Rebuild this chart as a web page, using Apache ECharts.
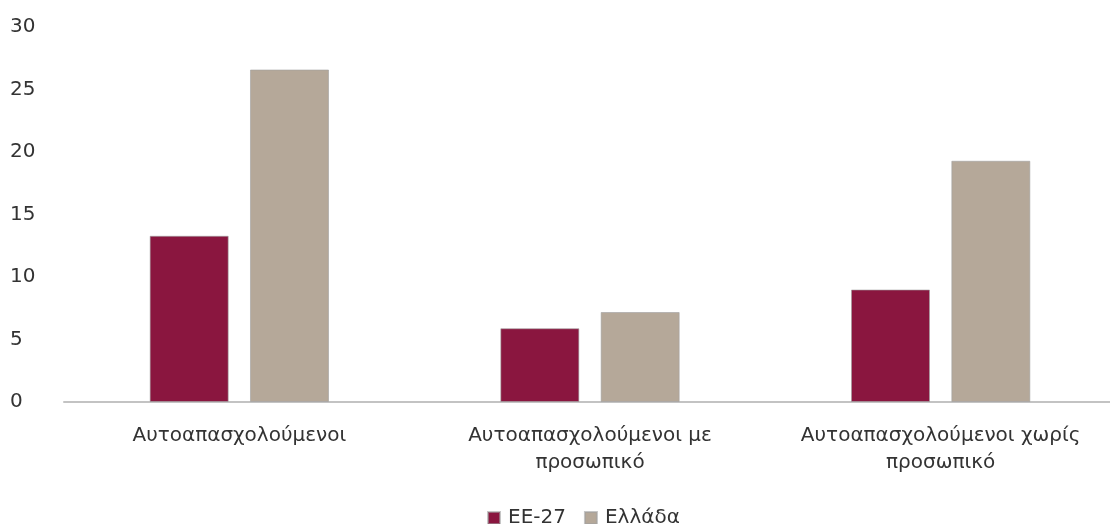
<!DOCTYPE html>
<html>
<head>
<meta charset="utf-8">
<script src="https://cdn.jsdelivr.net/npm/echarts@6/dist/echarts.min.js"></script>
<style>
  html, body { margin: 0; padding: 0; background: #fff; }
  #chart { width: 1110px; height: 524px; }
</style>
</head>
<body>
<div id="chart"></div>
<script>
const categories = ['Αυτοαπασχολούμενοι', 'Αυτοαπασχολούμενοι με\nπροσωπικό', 'Αυτοαπασχολούμενοι χωρίς\nπροσωπικό']
const eu27 = [13.3, 5.9, 9.0]
const greece = [26.6, 7.2, 19.3]
const yTicks = { min: 0, max: 30, interval: 5 }

const myChart = echarts.init(document.getElementById('chart'))

const option = {
  backgroundColor: '#fff',
  textStyle: { fontFamily: 'DejaVu Sans' },
  grid: {
    left: 64,
    top: 27,
    width: 1052,
    bottom: 122,
    outerBoundsMode: 'none',
  },
  legend: {
    top: 503,
    left: 482,
    itemWidth: 12,
    itemHeight: 12,
    itemGap: 18,
    icon: 'rect',
    textStyle: { fontSize: 20, color: '#333', padding: [0, 0, 0, 3] },
    data: ['EE-27', 'Ελλάδα'],
  },
  xAxis: {
    type: 'category',
    data: categories,
    axisTick: { show: false },
    axisLine: { lineStyle: { color: '#c3c3c3', width: 2 } },
    axisLabel: {
      fontSize: 20,
      color: '#333',
      margin: 20,
      lineHeight: 27,
      interval: 0,
    },
  },
  yAxis: {
    type: 'value',
    min: yTicks.min,
    max: yTicks.max,
    interval: yTicks.interval,
    axisLine: { show: false },
    axisTick: { show: false },
    splitLine: { show: false },
    axisLabel: {
      fontSize: 20,
      color: '#333',
      align: 'left',
      margin: 54,
    },
  },
  series: [
    {
      name: 'EE-27',
      type: 'bar',
      data: eu27,
      barWidth: 79,
      barGap: '27%',
      itemStyle: { color: '#8a163f', borderColor: 'rgba(160,160,160,0.6)', borderWidth: 1 },
    },
    {
      name: 'Ελλάδα',
      type: 'bar',
      data: greece,
      barWidth: 79,
      barGap: '27%',
      itemStyle: { color: '#b5a899', borderColor: 'rgba(160,160,160,0.6)', borderWidth: 1 },
    },
  ],
}

myChart.setOption(option)
</script>
</body>
</html>
